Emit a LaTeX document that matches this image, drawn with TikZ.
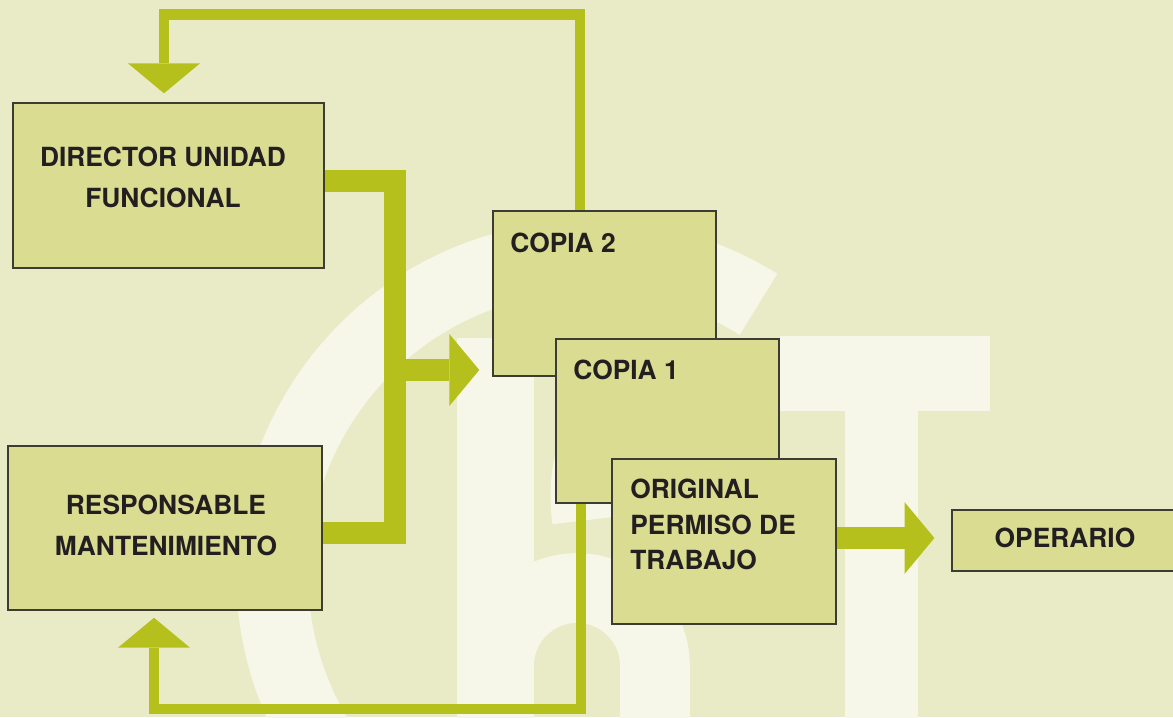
\documentclass[tikz,border=0pt]{standalone}
\usepackage{fontspec}
\setmainfont{TeX Gyre Heros}
\usepackage{tikz}
\usetikzlibrary{arrows.meta}

\definecolor{fondo}{RGB}{232,235,198}
\definecolor{marca}{RGB}{246,247,232}
\definecolor{caja}{RGB}{217,220,145}
\definecolor{verde}{RGB}{182,192,29}
\definecolor{borde}{RGB}{60,60,50}
\definecolor{texto}{RGB}{35,31,32}

\begin{document}
\begin{tikzpicture}[x=0.02cm,y=-0.02cm,font=\fontsize{15}{23.3}\selectfont\bfseries,
	doc/.style={draw=borde,line width=0.85pt,fill=caja,inner sep=0pt},
	txt/.style={text=texto,inner sep=0pt},
	wm/.style={draw=marca,line width=40.8pt},
	bus/.style={draw=verde,line width=12.5pt,line join=miter},
	flow/.style={draw=verde,line width=12pt,-{Triangle[length=17pt,width=40.9pt,line width=0pt]}},
	fb/.style={draw=verde,line width=5.7pt,line join=miter,-{Triangle[length=17pt,width=40.9pt,line width=0pt]}}]

\useasboundingbox (0,0) rectangle (1173,717);

\begin{scope}
\clip (0,0) rectangle (1173,717);
\fill[fondo] (0,0) rectangle (1173,717); % background
% Watermark logo
\draw[wm] (590,574) ++(58:6.36cm) arc[start angle=58,end angle=265,radius=6.36cm]; % ring
\fill[marca] (457,338) rectangle (534,730); % stem
\draw[wm,line width=39.7pt] (499,666) arc[start angle=180,end angle=0,radius=1.56cm] -- (655,730); % arch
\draw[wm] (760,410) .. controls (640,370) and (575,420) .. (588,520); % curl
\fill[marca] (780,336) rectangle (990,411); % T bar
\fill[marca] (845,411) rectangle (918,730); % T stem
\end{scope}

% Boxes
\node[doc,minimum width=6.22cm,minimum height=3.30cm] (dir) at (168.5,185.5) {};
\node[doc,minimum width=6.28cm,minimum height=3.28cm] (resp) at (165,528) {};
\node[doc,minimum width=4.80cm,minimum height=1.22cm] (oper) at (1072,540.5) {};

% Connectors
\coordinate (busN) at (395,181);
\coordinate (busS) at (395,533);
\coordinate (bus) at (395,370);
\coordinate (up) at (580,14.5);
\coordinate (upL) at (164,14.5);
\coordinate (dn) at (581,709);
\coordinate (dnL) at (154,709);

\draw[bus] (dir.east |- busN) -- (busN) -- (busS) -- (resp.east |- busS); % collector

\node[doc,minimum width=4.46cm,minimum height=3.30cm] (copia2) at (604.5,293.5) {};
\node[doc,minimum width=4.46cm,minimum height=3.28cm] (copia1) at (667.5,421) {};
\node[doc,minimum width=4.48cm,minimum height=3.30cm] (orig) at (724,541.5) {};

\draw[flow,shorten >=7.4pt] (bus) -- (copia2.west |- bus);
\draw[fb,shorten >=5.1pt] (copia2.north -| up) -- (up) -- (upL) -- (dir.north -| upL); % copy 2 back
\draw[fb,shorten >=4pt] (copia1.south -| dn) -- (dn) -- (dnL) -- (resp.south -| dnL); % copy 1 back
\draw[flow,shorten >=9.6pt] (orig.east |- 0,538) -- (oper.west |- 0,538);

% Labels
\node[txt,anchor=north,align=center] (dirtxt) at (163,147) {DIRECTOR UNIDAD\\FUNCIONAL};
\node[txt,anchor=north,align=center] (resptxt) at (166,495) {RESPONSABLE\\MANTENIMIENTO};
\node[txt,anchor=north west] (c2txt) at (510,233) {COPIA 2};
\node[txt,anchor=north west] (c1txt) at (573,360) {COPIA 1};
\node[txt,anchor=north west,align=left,font=\fontsize{15}{20}\selectfont\bfseries] (origtxt) at (630,479) {ORIGINAL\\PERMISO DE\\TRABAJO};
\node[txt,anchor=north] (opertxt) at (1065,528) {OPERARIO};
\end{tikzpicture}
\end{document}
